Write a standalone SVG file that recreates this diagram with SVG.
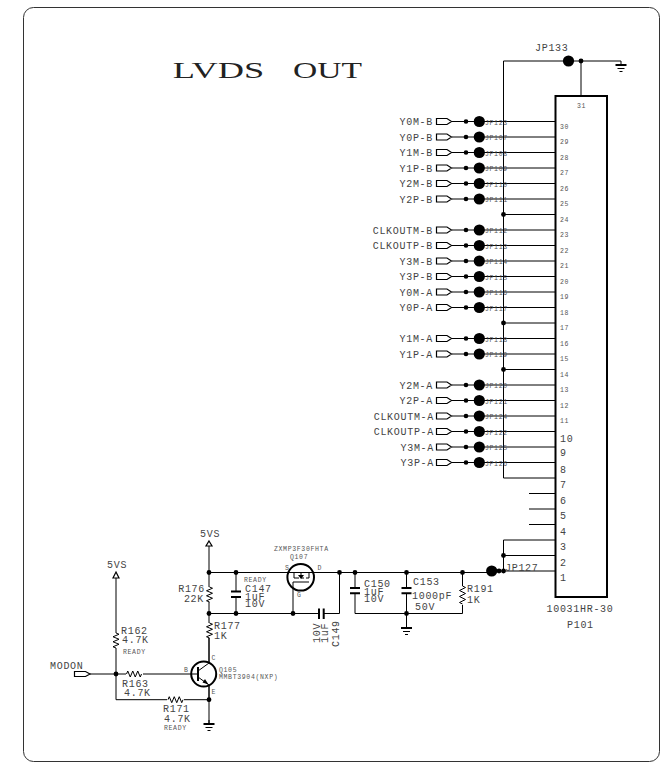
<svg xmlns="http://www.w3.org/2000/svg" width="661" height="764" viewBox="0 0 661 764">
<style>
text{font-family:"Liberation Mono",monospace;fill:#444;font-size:10px;letter-spacing:.7px}
.e{text-anchor:end}
.s{font-size:6.5px;letter-spacing:.66px;fill:#555}
.t{font-family:"Liberation Serif",serif;font-size:22.5px;fill:#222;letter-spacing:0}
.w{fill:none;stroke:#000;stroke-width:1}
.h{fill:none;stroke:#000;stroke-width:2}
.d{fill:#000}
.p{fill:#fff;stroke:#000;stroke-width:1.2}
</style>
<defs>
<g id="sig"><path class="p" d="M436.5-3H447L451.5 0 447 3H436.5Z"/><circle class="d" cx="466" cy="0" r="2.3"/><circle class="d" cx="479.3" cy="0" r="5.6"/></g>
<path id="rv" class="w" d="M0 0l3 1.25-6 2.5 6 2.5-6 2.5 6 2.5-6 2.5 3 1.25"/>
<path id="rh" class="w" d="M0 0l1.25-3 2.5 6 2.5-6 2.5 6 2.5-6 2.5 6 1.25-3"/>
<g id="gnd"><path class="w" d="M0-4V0"/><path class="h" d="M-5.5 0H5.5"/><path class="w" d="M-3.5 3.5H3.5M-1.5 6.5H1.5"/></g>
<circle id="dot" class="d" r="2.4"/>
</defs>
<rect id="frame" x="23.5" y="7.5" width="636" height="754" rx="10" fill="none" stroke="#333" stroke-width="1"/>
<g id="title"><text class="t" x="172.7" y="77.5" textLength="91.5" lengthAdjust="spacingAndGlyphs">LVDS</text><text class="t" x="293" y="77.5" textLength="69" lengthAdjust="spacingAndGlyphs">OUT</text></g>
<g id="connectors">
<path class="w" d="M452 121.5H555M452 137H555M452 152.5H555M452 168H555M452 183.5H555M452 199H555M503.5 214.5H555M452 230H555M452 245.5H555M452 261H555M452 276.5H555M452 292H555M452 307.5H555M503.5 323H555M452 338.5H555M452 354H555M503.5 369.5H555M452 385H555M452 400.5H555M452 416H555M452 431.5H555M452 447H555M452 462.5H555M529 493.5H555M529 509H555M529 524.5H555"/>
<path class="w" d="M568 61H503.5V478H555M568 61H621M581 61V96M503.5 540H555M503.5 540V571M503.5 555.5H555M491 571H555"/>
<path class="w" d="M209 546V702M209 572.5H491M209 613.5H318.5M324 613.5H339.5V572.5M236 572.5V591.5M236 597V613.5M293 613.5V590M355 572.5V587.5M355 593.5V613.5H462.5V605M462.5 572.5V586M406.5 572.5V587.5M406.5 593.5V628"/>
<path class="w" d="M116 578V699.7H209M90 674H191M209 638V663M209 685V724"/>
</g>
<g id="P101"><rect x="555.5" y="96" width="51.5" height="501" fill="none" stroke="#000" stroke-width="2"/>
<text class="s" x="577" y="108">31</text>
<text class="s" x="560" y="128.500">30</text><text class="s" x="560" y="144">29</text><text class="s" x="560" y="159.500">28</text><text class="s" x="560" y="175">27</text><text class="s" x="560" y="190.500">26</text><text class="s" x="560" y="206">25</text><text class="s" x="560" y="221.500">24</text><text class="s" x="560" y="237">23</text><text class="s" x="560" y="252.500">22</text><text class="s" x="560" y="268">21</text><text class="s" x="560" y="283.500">20</text><text class="s" x="560" y="299">19</text><text class="s" x="560" y="314.500">18</text><text class="s" x="560" y="330">17</text><text class="s" x="560" y="345.500">16</text><text class="s" x="560" y="361">15</text><text class="s" x="560" y="376.500">14</text><text class="s" x="560" y="392">13</text><text class="s" x="560" y="407.500">12</text><text class="s" x="560" y="423">11</text>
<text x="560" y="441.500">10</text><text x="560" y="456">9</text><text x="560" y="472.500">8</text><text x="560" y="488">7</text><text x="560" y="503.500">6</text><text x="560" y="519">5</text><text x="560" y="534.500">4</text><text x="560" y="550">3</text><text x="560" y="566">2</text><text x="560" y="581">1</text>
<text x="546.500" y="612">10031HR-30</text><text x="567" y="628">P101</text></g>
<g id="JP133"><circle class="d" cx="568.500" cy="61" r="5.600"/><use href="#dot" x="581" y="61"/><text x="535" y="51">JP133</text></g>
<use id="GND1" href="#gnd" x="621" y="65"/>
<g id="junctions"><use href="#dot" x="503.500" y="214.500"/><use href="#dot" x="503.500" y="323"/><use href="#dot" x="503.500" y="369.500"/><use href="#dot" x="503.500" y="555.500"/><use href="#dot" x="503.500" y="571"/><use href="#dot" x="499" y="571"/></g>
<g id="s30" transform="translate(0,121.500)"><use href="#sig"/><text class="e" x="433" y="3.500">Y0M-B</text><text class="s" x="485" y="3">JP123</text></g>
<g id="s29" transform="translate(0,137)"><use href="#sig"/><text class="e" x="433" y="3.500">Y0P-B</text><text class="s" x="485" y="3">JP107</text></g>
<g id="s28" transform="translate(0,152.500)"><use href="#sig"/><text class="e" x="433" y="3.500">Y1M-B</text><text class="s" x="485" y="3">JP108</text></g>
<g id="s27" transform="translate(0,168)"><use href="#sig"/><text class="e" x="433" y="3.500">Y1P-B</text><text class="s" x="485" y="3">JP109</text></g>
<g id="s26" transform="translate(0,183.500)"><use href="#sig"/><text class="e" x="433" y="3.500">Y2M-B</text><text class="s" x="485" y="3">JP110</text></g>
<g id="s25" transform="translate(0,199)"><use href="#sig"/><text class="e" x="433" y="3.500">Y2P-B</text><text class="s" x="485" y="3">JP111</text></g>
<g id="s23" transform="translate(0,230)"><use href="#sig"/><text class="e" x="433" y="3.500">CLKOUTM-B</text><text class="s" x="485" y="3">JP112</text></g>
<g id="s22" transform="translate(0,245.500)"><use href="#sig"/><text class="e" x="433" y="3.500">CLKOUTP-B</text><text class="s" x="485" y="3">JP113</text></g>
<g id="s21" transform="translate(0,261)"><use href="#sig"/><text class="e" x="433" y="3.500">Y3M-B</text><text class="s" x="485" y="3">JP114</text></g>
<g id="s20" transform="translate(0,276.500)"><use href="#sig"/><text class="e" x="433" y="3.500">Y3P-B</text><text class="s" x="485" y="3">JP115</text></g>
<g id="s19" transform="translate(0,292)"><use href="#sig"/><text class="e" x="433" y="3.500">Y0M-A</text><text class="s" x="485" y="3">JP116</text></g>
<g id="s18" transform="translate(0,307.500)"><use href="#sig"/><text class="e" x="433" y="3.500">Y0P-A</text><text class="s" x="485" y="3">JP117</text></g>
<g id="s16" transform="translate(0,338.500)"><use href="#sig"/><text class="e" x="433" y="3.500">Y1M-A</text><text class="s" x="485" y="3">JP118</text></g>
<g id="s15" transform="translate(0,354)"><use href="#sig"/><text class="e" x="433" y="3.500">Y1P-A</text><text class="s" x="485" y="3">JP119</text></g>
<g id="s13" transform="translate(0,385)"><use href="#sig"/><text class="e" x="433" y="3.500">Y2M-A</text><text class="s" x="485" y="3">JP120</text></g>
<g id="s12" transform="translate(0,400.500)"><use href="#sig"/><text class="e" x="433" y="3.500">Y2P-A</text><text class="s" x="485" y="3">JP121</text></g>
<g id="s11" transform="translate(0,416)"><use href="#sig"/><text class="e" x="434" y="3.500">CLKOUTM-A</text><text class="s" x="485" y="3">JP124</text></g>
<g id="s10" transform="translate(0,431.500)"><use href="#sig"/><text class="e" x="434" y="3.500">CLKOUTP-A</text><text class="s" x="485" y="3">JP122</text></g>
<g id="s9" transform="translate(0,447)"><use href="#sig"/><text class="e" x="434" y="3.500">Y3M-A</text><text class="s" x="485" y="3">JP125</text></g>
<g id="s8" transform="translate(0,462.500)"><use href="#sig"/><text class="e" x="434" y="3.500">Y3P-A</text><text class="s" x="485" y="3">JP126</text></g>
<g id="JP127"><circle class="d" cx="491.700" cy="571" r="5.600"/><text x="505" y="571">JP127</text></g>
<g id="VS1"><path class="p" d="M209 541L212 546H206Z"/><text x="200" y="537">5VS</text></g>
<g id="VS2"><path class="p" d="M116 572L119 578H113Z"/><text x="107" y="568">5VS</text></g>
<g id="R176"><rect x="205" y="587" width="8" height="15" fill="#fff"/><use href="#rv" x="209.500" y="587"/><text class="e" x="205" y="591.500">R176</text><text class="e" x="204" y="602">22K</text></g>
<g id="R177"><rect x="205" y="623" width="8" height="15" fill="#fff"/><use href="#rv" x="209.500" y="623"/><text x="214" y="628.500">R177</text><text x="214" y="638.500">1K</text></g>
<g id="C147"><path class="h" d="M231 591.500H241M231 597H241"/><use href="#dot" x="236" y="572.500"/><use href="#dot" x="236" y="613.500"/><text class="s" x="244" y="582">READY</text><text x="245" y="591.500">C147</text><text x="245" y="599.500">1uF</text><text x="245" y="607">10V</text></g>
<g id="Q107"><circle cx="300.700" cy="577.300" r="13.300" fill="none" stroke="#000" stroke-width="2"/><path class="w" d="M294 572.500V578H299M301 578H304M306 578H309V572.500M293 582H309M293 582V590M301 573V578"/><path class="d" d="M298 575H304L301 579Z"/><text class="s" x="274" y="551">ZXMP3F30FHTA</text><text class="s" x="290" y="559">Q107</text><text class="s" x="285" y="570">S</text><text class="s" x="317.500" y="570">D</text><text class="s" x="297" y="597">G</text></g>
<use href="#dot" x="209" y="572.500"/><use href="#dot" x="209" y="613.500"/><use href="#dot" x="293" y="613.500"/><use href="#dot" x="339.500" y="572.500"/><use href="#dot" x="355" y="572.500"/><use href="#dot" x="406.500" y="572.500"/><use href="#dot" x="462.500" y="572.500"/><use href="#dot" x="406.500" y="613.500"/><use href="#dot" x="116" y="674"/><use href="#dot" x="209" y="699.700"/>
<g id="C149"><path class="h" d="M319 608.500V619M323.700 608.500V619"/><text transform="translate(320,643) rotate(-90)">10V</text><text transform="translate(328,643) rotate(-90)">1uF</text><text transform="translate(339,647) rotate(-90)">C149</text></g>
<g id="C150"><path class="h" d="M350 588H360M350 593.300H360"/><text x="364" y="586.500">C150</text><text x="364" y="594.500">1uF</text><text x="364" y="602">10V</text></g>
<g id="C153"><path class="h" d="M401.500 588H411.500M401.500 593.300H411.500"/><text x="413" y="585">C153</text><text x="412" y="599">1000pF</text><text x="415" y="610">50V</text></g>
<g id="R191"><rect x="458" y="586" width="8" height="19" fill="#fff"/><path class="w" d="M462.500 586l3 1.500-6 3 6 3-6 3 6 3-6 3 3 1.500"/><text x="467" y="592">R191</text><text x="467" y="603">1K</text></g>
<use id="GND2" href="#gnd" x="406.500" y="628"/>
<g id="MODON"><path class="p" d="M74.500 671.500H85.500L90 674 85.500 676.500H74.500Z"/><text x="50" y="669">MODON</text></g>
<g id="R162"><rect x="112" y="633" width="8" height="15" fill="#fff"/><use href="#rv" x="116" y="633"/><text x="121" y="633.500">R162</text><text x="122" y="643">4.7K</text><text class="s" x="123" y="653.500">READY</text></g>
<g id="R163"><rect x="126" y="670" width="17" height="8" fill="#fff"/><use href="#rh" x="126.500" y="674"/><text x="122" y="687">R163</text><text x="124" y="696">4.7K</text></g>
<g id="R171"><rect x="167" y="696" width="17" height="8" fill="#fff"/><use href="#rh" x="168" y="699.700"/><text x="163" y="712">R171</text><text x="164" y="722">4.7K</text><text class="s" x="164" y="730">READY</text></g>
<g id="Q105"><circle cx="203.700" cy="674" r="12.500" fill="#fff" stroke="#000" stroke-width="2"/><path class="w" d="M191 674H198M209 663L198 671M198 677L209 685"/><path class="h" d="M198 667V681"/><path class="d" d="M208.500 684.500L202.500 682.500 205 679Z"/><text class="s" x="211.500" y="660">C</text><text class="s" x="184" y="672">B</text><text class="s" x="211.500" y="694">E</text><text class="s" x="219" y="672">Q105</text><text class="s" x="219" y="679">MMBT3904(NXP)</text></g>
<use id="GND3" href="#gnd" x="209" y="724"/>
</svg>
